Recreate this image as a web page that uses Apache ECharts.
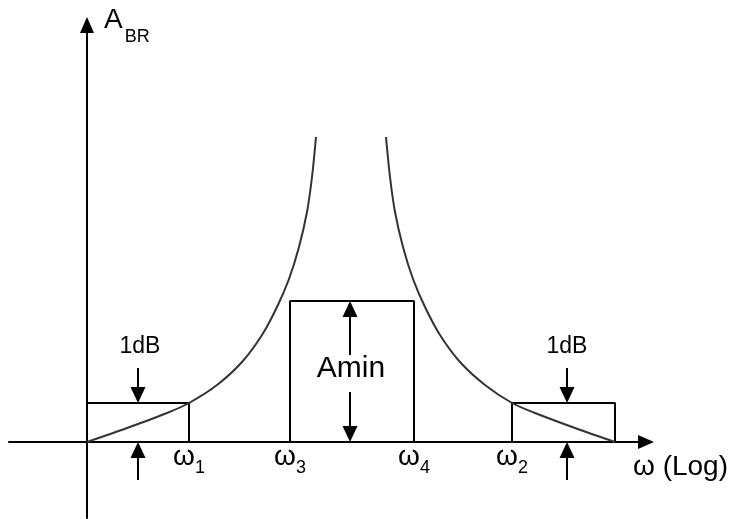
<!DOCTYPE html>
<html>
<head>
<meta charset="utf-8">
<title>Band-reject filter specification</title>
<script src="https://cdn.jsdelivr.net/npm/echarts@6/dist/echarts.min.js"></script>
<style>
  html, body { margin: 0; padding: 0; background: #fff; }
  #chart { width: 741px; height: 519px; }
</style>
</head>
<body>
<div id="chart"></div>
<script>
// Attenuation template of a band-reject filter (log frequency on x, attenuation on y).

// Band edges along the frequency axis
const bandEdges = [102, 203, 327, 425];          // ω1, ω3, ω4, ω2
const edgeLabels = ['1', '3', '4', '2'];
const upperPassEnd = 528;

// Attenuation levels
const passRipple = 39;   // 1 dB
const stopAmin = 141;    // Amin

// Attenuation curve, lower branch (rising towards the notch)
const lowBranchX = [0, 40, 80, 102, 130, 155, 175, 190, 202, 212, 220, 225, 229];
const lowBranchY = [0, 14, 29, 39, 57, 80, 107, 135, 163, 195, 230, 265, 305];

// Attenuation curve, upper branch (falling away from the notch)
const highBranchX = [299, 303, 308, 316, 326, 338, 353, 373, 398, 425, 448, 488, 528];
const highBranchY = [305, 265, 230, 195, 163, 135, 107, 80, 57, 39, 29, 14, 0];

// Dimension arrows: [x, tail, tip]
const arrowX = [51, 51, 480, 480, 263, 263];
const arrowTail = [74, -38, 74, -38, 87, 50];
const arrowTip = [39, 0, 39, 0, 141, 0];

// Annotation texts
const noteX = [53, 480, 264];
const noteY = [95, 95, 73];
const noteText = ['1dB', '1dB', 'Amin'];
const noteSize = [23, 23, 30];

const FONT = '"Liberation Sans", Arial, sans-serif';
const INK = '#000';

const zip = (xs, ys) => xs.map((x, i) => [x, ys[i]]);

function boxPath(x0, x1, h) {
  return [[x0, 0], [x0, h], [x1, h], [x1, 0]];
}

const chart = echarts.init(document.getElementById('chart'), null, { renderer: 'canvas' });

const option = {
  animation: false,
  backgroundColor: '#fff',
  grid: { left: 9, right: 95, top: 25, bottom: 1, containLabel: false, outerBoundsMode: 'none' },
  xAxis: {
    type: 'value',
    min: -78,
    max: 559,
    position: 'bottom',
    offset: -76,
    name: 'ω (Log)',
    nameLocation: 'end',
    nameGap: -13,
    nameTextStyle: {
      fontFamily: FONT, fontSize: 28, color: INK,
      align: 'left', verticalAlign: 'top', padding: [11, 0, 0, 0]
    },
    axisLine: {
      onZero: false,
      symbol: ['none', 'triangle'],
      symbolSize: [14, 16],
      lineStyle: { color: INK, width: 2 }
    },
    axisTick: { show: false },
    splitLine: { show: false },
    axisLabel: {
      customValues: bandEdges,
      margin: 1,
      verticalAlign: 'top',
      formatter: function (value) {
        const i = bandEdges.indexOf(value);
        return '{w|ω}{n|' + edgeLabels[i] + '}';
      },
      rich: {
        w: { fontFamily: FONT, fontSize: 28, lineHeight: 28, color: INK, verticalAlign: 'top' },
        n: { fontFamily: FONT, fontSize: 18, lineHeight: 34, color: INK, verticalAlign: 'bottom' }
      }
    }
  },
  yAxis: {
    type: 'value',
    min: -76,
    max: 417,
    position: 'left',
    offset: -78,
    name: '{a|A}{s|BR}',
    nameLocation: 'end',
    nameGap: 19,
    nameTextStyle: {
      align: 'left',
      verticalAlign: 'top',
      padding: [0, 0, 0, 17],
      rich: {
        a: { fontFamily: FONT, fontSize: 28, lineHeight: 28, color: INK, verticalAlign: 'top' },
        s: { fontFamily: FONT, fontSize: 18, lineHeight: 40, color: INK, verticalAlign: 'bottom', padding: [0, 0, 0, 2] }
      }
    },
    axisLine: {
      onZero: false,
      symbol: ['none', 'triangle'],
      symbolSize: [14, 16],
      lineStyle: { color: INK, width: 2 }
    },
    axisTick: { show: false },
    axisLabel: { show: false },
    splitLine: { show: false }
  },
  series: [
    {
      name: 'lower passband',
      type: 'line',
      data: boxPath(0, bandEdges[0], passRipple),
      symbol: 'none',
      lineStyle: { color: INK, width: 2 }
    },
    {
      name: 'stopband',
      type: 'line',
      data: boxPath(bandEdges[1], bandEdges[2], stopAmin),
      symbol: 'none',
      lineStyle: { color: INK, width: 2 }
    },
    {
      name: 'upper passband',
      type: 'line',
      data: boxPath(bandEdges[3], upperPassEnd, passRipple),
      symbol: 'none',
      lineStyle: { color: INK, width: 2 }
    },
    {
      name: 'response low',
      type: 'line',
      data: zip(lowBranchX, lowBranchY),
      symbol: 'none',
      smooth: 0.3,
      lineStyle: { color: '#333', width: 2 }
    },
    {
      name: 'response high',
      type: 'line',
      data: zip(highBranchX, highBranchY),
      symbol: 'none',
      smooth: 0.3,
      lineStyle: { color: '#333', width: 2 }
    },
    {
      name: 'arrows',
      type: 'custom',
      encode: { x: 0, y: [1, 2] },
      data: arrowX.map((x, i) => [x, arrowTail[i], arrowTip[i]]),
      renderItem: function (params, api) {
        const x = api.value(0);
        const p0 = api.coord([x, api.value(1)]);
        const p1 = api.coord([x, api.value(2)]);
        const dir = p1[1] > p0[1] ? 1 : -1;
        const headLen = 16, headHalf = 7.5;
        const base = p1[1] - dir * headLen;
        return {
          type: 'group',
          children: [
            { type: 'line', shape: { x1: p0[0], y1: p0[1], x2: p0[0], y2: base + dir * 2 },
              style: { stroke: INK, lineWidth: 2 } },
            { type: 'polygon', shape: { points: [[p1[0], p1[1]], [p1[0] - headHalf, base], [p1[0] + headHalf, base]] },
              style: { fill: INK } }
          ]
        };
      }
    },
    {
      name: 'notes',
      type: 'custom',
      encode: { x: 0, y: 1 },
      data: zip(noteX, noteY),
      renderItem: function (params, api) {
        const p = api.coord([api.value(0), api.value(1)]);
        const i = params.dataIndex;
        return {
          type: 'text',
          x: p[0], y: p[1],
          style: {
            text: noteText[i],
            fontFamily: FONT,
            fontSize: noteSize[i],
            fill: INK,
            align: 'center',
            verticalAlign: 'middle'
          }
        };
      }
    }
  ]
};

chart.setOption(option);
</script>
</body>
</html>
